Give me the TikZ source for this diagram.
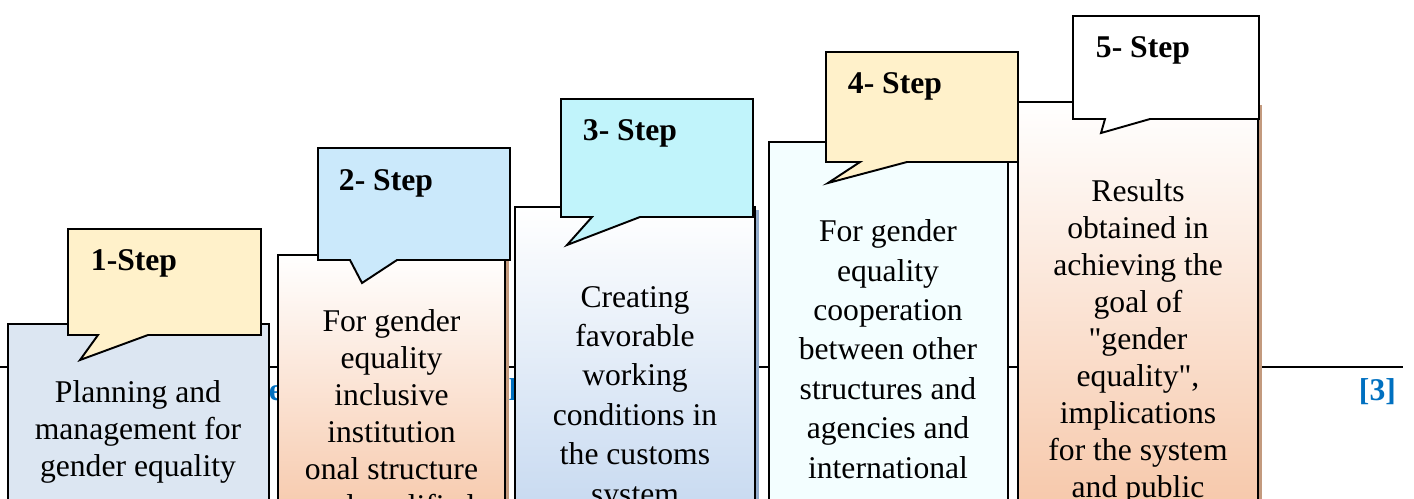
\documentclass[tikz,border=0pt]{standalone}
\usepackage{fontspec}
\setmainfont{Liberation Serif}
\definecolor{boxblue}{HTML}{DCE6F2}
\definecolor{noteyellow}{HTML}{FFF1CA}
\definecolor{noteblue}{HTML}{CBE9FB}
\definecolor{notecyan}{HTML}{C1F4FB}
\definecolor{peach}{HTML}{F6C4A4}
\definecolor{paleblue}{HTML}{C2D6EF}
\definecolor{glowcyan}{HTML}{BDF3FB}
\definecolor{edgecyan}{HTML}{F3FEFF}
\definecolor{shadebrown}{HTML}{C39A7E}
\definecolor{shadeblue}{HTML}{93ACCC}
\definecolor{refblue}{HTML}{0070C0}
% straight double quote, kept out of the TeX ligature mapping
\def\dq{\XeTeXglyph\XeTeXcharglyph"22\relax}
% speech box: [style](left,top)(right,bottom)(foot left:foot right)(tip)
\def\callout[#1](#2,#3)(#4,#5)(#6:#7)(#8,#9){\draw[#1] (#2,#3) -- (#4,#3) -- (#4,#5) -- (#7,#5) -- (#8,#9) -- (#6,#5) -- (#2,#5) -- cycle;}
\tikzset{
  boxtext/.style={align=center, inner sep=0pt, anchor=base, font=\fontsize{18}{21}\selectfont},
  widetext/.style={boxtext, font=\fontsize{18}{22.4}\selectfont},
  labeltext/.style={inner sep=0pt, anchor=base west, font=\fontsize{18}{21}\selectfont\bfseries},
  reftext/.style={labeltext, text=refblue}
}
\begin{document}
\begin{tikzpicture}[x=0.2mm, y=-0.2mm, line width=1.1pt]
		%%%%% START %%%%%
		\useasboundingbox (0,0) rectangle (1414,498);
		\clip (0,0) rectangle (1414,498);
		
		% rule and reference line behind the boxes
		\draw[line width=0.9pt] (0,367) -- (1403,367);
		\node[reftext] (fragA) at (268,400) {e};
		\node[reftext] (fragB) at (508,400) {l};
		\node[reftext] (ref) at (1358,400) {[3]};
		
		% 1 (text nodes sit on their last baseline)
		\draw[fill=boxblue] (8,324) rectangle (269,540);
		\callout[fill=noteyellow](68,229)(261,335)(98:148)(80,360)
		\node[labeltext] (labA) at (90,270) {1-Step};
		\node[boxtext] (txtA) at (138,476) {Planning and\\management for\\gender equality};
		
		% 2
		\fill[shadebrown] (505,258) rectangle (509,540);
		\draw[top color=white, bottom color=peach] (278,255) rectangle (505,540);
		\callout[fill=noteblue](318,148)(510,260)(350:397)(362,283)
		\node[labeltext] (labB) at (338,190) {2- Step};
		\node[boxtext] (txtB) at (391.5,516) {For gender\\equality\\inclusive\\institution\\onal structure\\and qualified};
		
		% 3
		\fill[shadeblue] (755,210) rectangle (759,540);
		\draw[top color=white, bottom color=paleblue] (515,207) rectangle (755,540);
		\callout[fill=notecyan](561,99)(753,217)(592:640)(567,245)
		\node[labeltext] (labC) at (582,140) {3- Step};
		\node[widetext] (txtC) at (635,504) {Creating\\favorable\\working\\conditions in\\the customs\\system};
		
		% 4
		\draw[left color=edgecyan, middle color=glowcyan, right color=edgecyan] (769,142) rectangle (1008,540);
		\callout[fill=noteyellow](826,52)(1018,162)(860:907)(828,183)
		\node[labeltext] (labD) at (847,93) {4- Step};
		\node[widetext] (txtD) at (888,478) {For gender\\equality\\cooperation\\between other\\structures and\\agencies and\\international};
		
		% 5
		\fill[shadebrown] (1258,105) rectangle (1262,540);
		\draw[top color=white, bottom color=peach] (1018,102) rectangle (1258,540);
		\callout[fill=white](1073,16)(1259,119)(1105:1150)(1101,133)
		\node[labeltext] (labE) at (1095,57) {5- Step};
		\node[boxtext] (txtE) at (1138,497) {Results\\obtained in\\achieving the\\goal of\\\dq gender\\equality\dq,\\implications\\for the system\\and public};
		
		%%%%% END %%%%%
	\end{tikzpicture}
\end{document}
